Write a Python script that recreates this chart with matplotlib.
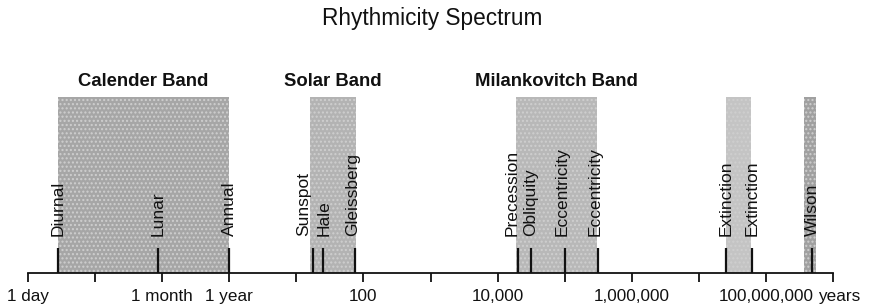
"""Rhythmicity spectrum: log time axis (years) with the calendar, solar,
Milankovitch, extinction and Wilson bands and their cycle markers."""
import matplotlib

matplotlib.use("Agg")
import matplotlib.pyplot as plt
from matplotlib.transforms import offset_copy

plt.rcParams["font.family"] = ["Liberation Sans", "DejaVu Sans"]

INK = "#111111"

# Bands: period range in years.
BAND_TITLES = ["Calender Band", "Solar Band", "Milankovitch Band", "", ""]
BAND_START = [0.0028, 16, 18800, 25.4e6, 370e6]
BAND_END = [1.0, 77, 304000, 60e6, 558e6]
BAND_COLORS = ["#a6a6a6", "#b3b3b3", "#b8b8b8", "#c4c4c4", "#a0a0a0"]

# Individual cycles (years).
CYCLE_NAMES = ["Diurnal", "Lunar", "Annual", "Sunspot", "Hale", "Gleissberg",
               "Precession", "Obliquity", "Eccentricity", "Eccentricity",
               "Extinction", "Extinction", "Wilson"]
CYCLE_PERIODS = [0.0028, 0.088, 1.0, 17.7, 25, 75,
                 20200, 31500, 101000, 315000,
                 25.4e6, 62e6, 487e6]

# Axis ticks at each decade of years, only some labelled.
TICKS = [1e-3, 1e-2, 1e-1, 1e0, 1e1, 1e2, 1e3, 1e4, 1e5, 1e6, 1e7, 1e8, 1e9]
TICK_LABELS = ["1 day", "", "1 month", "1 year", "", "100", "", "10,000", "",
               "1,000,000", "", "100,000,000", ""]

# small sideways nudges (pixels) so crowded labels sit as in the original
LABEL_NUDGE = {"Sunspot": -9, "Hale": 1, "Gleissberg": -2, "Precession": -6,
               "Eccentricity": -3}


def main() -> None:
    W, H = 869, 307
    fig = plt.figure(figsize=(W / 100, H / 100), dpi=100)
    # axis line at y=273 px, band tops at y=97 px, x from 28 to 833 px
    ax = fig.add_axes([28 / W, (H - 273) / H, 805 / W, 176 / H])
    ax.set_xscale("log")
    ax.set_xlim(TICKS[0], TICKS[-1])
    ax.set_ylim(0, 1)

    for lo, hi, col, title in zip(BAND_START, BAND_END, BAND_COLORS, BAND_TITLES):
        ax.axvspan(lo, hi, ymin=0, ymax=1, facecolor=col, edgecolor="#cfcfcf",
                   hatch="....", linewidth=0, zorder=1)
        if title:
            xm = (lo * hi) ** 0.5
            ax.text(xm, 1.09, title, ha="center", va="center", fontsize=13.3,
                    fontweight="bold", color=INK, clip_on=False)

    ax.vlines(CYCLE_PERIODS, 0, 0.142, color=INK, linewidth=1.6, zorder=3)
    for name, p in zip(CYCLE_NAMES, CYCLE_PERIODS):
        tr = offset_copy(ax.transData, fig=fig, x=LABEL_NUDGE.get(name, 0),
                         y=0, units="dots")
        ax.text(p, 0.21, name, rotation=90, ha="center", va="bottom",
                fontsize=12.5, color=INK, zorder=4, transform=tr)

    for side in ("left", "right", "top"):
        ax.spines[side].set_visible(False)
    ax.spines["bottom"].set_linewidth(1.3)
    ax.spines["bottom"].set_color(INK)
    ax.set_yticks([])
    ax.set_xticks(TICKS)
    ax.set_xticklabels(TICK_LABELS)
    ax.xaxis.set_minor_locator(matplotlib.ticker.NullLocator())
    ax.tick_params(axis="x", direction="out", length=6.5, width=1.3,
                   color=INK, labelsize=12.3, labelcolor=INK, pad=5)

    fig.text(0.497, 1 - 18 / H, "Rhythmicity Spectrum", ha="center",
             va="center", fontsize=16.3, color=INK)

    # "years" follows the last labelled tick
    fig.canvas.draw()
    lab = [t for t in ax.get_xticklabels() if t.get_text() == TICK_LABELS[-2]][0]
    bb = lab.get_window_extent()
    fig.text((bb.x1 + 5) / W, bb.y0 / H, "years", ha="left", va="bottom",
             fontsize=12.3, color=INK)

    fig.savefig("out.png", dpi=100, facecolor="white")


if __name__ == "__main__":
    main()
